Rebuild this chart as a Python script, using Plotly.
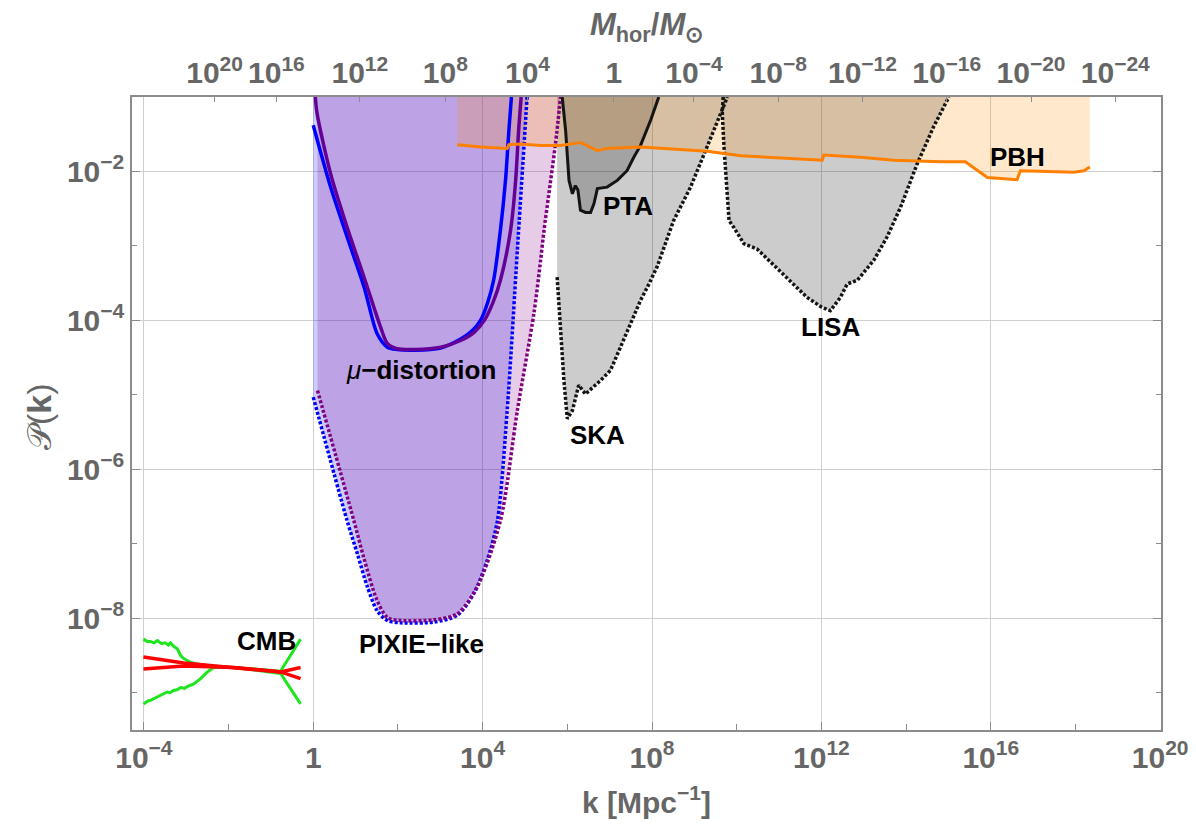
import plotly.graph_objects as go

# ---------------- data (log10 values) ----------------
# CMB
cmb_up_logk = [-4.01, -3.92, -3.85, -3.76, -3.68, -3.58, -3.50, -3.42, -3.37, -3.29, -3.21, -3.13, -3.06, -2.98, -2.90, -2.78, -2.66, -2.43, -1.88, -0.77, -0.73, -0.61, -0.46, -0.30]
cmb_up_logP = [-8.28, -8.31, -8.31, -8.33, -8.30, -8.34, -8.33, -8.36, -8.33, -8.38, -8.41, -8.50, -8.54, -8.57, -8.59, -8.61, -8.62, -8.64, -8.66, -8.71, -8.67, -8.57, -8.43, -8.28]
cmb_lo_logk = [-4.01, -3.90, -3.83, -3.76, -3.68, -3.60, -3.52, -3.45, -3.38, -3.30, -3.22, -3.13, -3.04, -2.95, -2.82, -2.66, -2.50, -2.35, -1.88, -0.77, -0.61, -0.46, -0.30]
cmb_lo_logP = [-9.15, -9.11, -9.10, -9.08, -9.06, -9.04, -9.02, -8.99, -9.00, -8.97, -8.96, -8.93, -8.94, -8.91, -8.88, -8.81, -8.72, -8.66, -8.66, -8.74, -8.88, -9.01, -9.15]
cmb_redA_logk = [-4.01, -3.06, -1.87, -0.77, -0.30]
cmb_redA_logP = [-8.52, -8.60, -8.665, -8.72, -8.81]
cmb_redB_logk = [-4.01, -3.06, -1.87, -0.77, -0.30]
cmb_redB_logP = [-8.68, -8.64, -8.66, -8.72, -8.66]

# mu-distortion (solid)
mu_purple_logk = [0.05, 0.09, 0.41, 0.80, 1.20, 1.59, 1.75, 1.98, 2.40, 3.01, 3.48, 3.80, 4.04, 4.25, 4.42, 4.66, 4.78, 4.85, 4.91]
mu_purple_logP = [-1.0, -1.22, -2.03, -2.75, -3.42, -4.09, -4.31, -4.38, -4.39, -4.36, -4.27, -4.16, -4.0, -3.75, -3.46, -2.79, -2.12, -1.45, -1.0]
mu_blue_logk = [0.0, 0.41, 0.80, 1.20, 1.51, 1.75, 1.98, 2.40, 3.01, 3.48, 3.75, 3.95, 4.12, 4.26, 4.42, 4.54, 4.62, 4.68]
mu_blue_logP = [-1.38, -2.21, -2.88, -3.55, -4.18, -4.36, -4.39, -4.40, -4.37, -4.25, -4.14, -4.0, -3.76, -3.46, -2.79, -2.12, -1.45, -1.0]

# PIXIE-like (dotted)
pixie_blue_logk = [0.0, 0.80, 1.04, 1.28, 1.51, 1.75, 2.06, 2.85, 3.40, 3.79, 4.11, 4.35, 4.58, 4.82, 5.05]
pixie_blue_logP = [-5.03, -6.69, -7.13, -7.58, -7.90, -8.03, -8.06, -8.05, -7.96, -7.67, -7.22, -6.69, -5.21, -3.06, -1.0]
pixie_purple_logk = [0.10, 0.96, 1.20, 1.50, 1.75, 2.06, 2.85, 3.40, 3.87, 4.42, 4.82, 5.21, 5.37, 5.45, 5.72, 5.84]
pixie_purple_logP = [-4.94, -6.69, -7.20, -7.75, -7.99, -8.03, -8.02, -7.94, -7.58, -6.69, -5.21, -3.91, -3.19, -2.79, -1.63, -1.0]

# SKA (dotted)
ska_logk = [5.76, 5.84, 5.92, 6.00, 6.12, 6.27, 6.43, 6.60, 6.78, 7.02, 7.26, 7.45, 7.73, 7.92, 8.12, 8.51, 8.91, 9.30, 9.62, 9.78]
ska_logP = [-3.42, -4.13, -4.81, -5.32, -5.21, -4.87, -4.99, -4.90, -4.81, -4.67, -4.36, -4.09, -3.73, -3.52, -3.28, -2.66, -2.21, -1.67, -1.22, -1.0]

# PTA (solid)
pta_logk = [5.88, 5.96, 6.04, 6.12, 6.19, 6.25, 6.31, 6.43, 6.55, 6.63, 6.71, 6.94, 7.18, 7.41, 7.57, 7.73, 7.97, 8.16]
pta_logP = [-1.0, -1.45, -2.12, -2.30, -2.19, -2.25, -2.52, -2.55, -2.55, -2.43, -2.23, -2.21, -2.12, -1.99, -1.81, -1.65, -1.31, -1.0]

# LISA (dotted)
lisa_logk = [9.68, 9.66, 9.70, 9.75, 9.82, 9.93, 10.17, 10.48, 10.88, 11.27, 11.66, 12.00, 12.21, 12.45, 12.61, 12.85, 13.24, 13.55, 13.87, 14.26, 14.65, 15.01]
lisa_logP = [-1.0, -1.22, -1.67, -2.12, -2.66, -2.75, -2.97, -3.04, -3.26, -3.48, -3.69, -3.82, -3.87, -3.69, -3.51, -3.46, -3.19, -2.88, -2.48, -1.90, -1.40, -1.0]

# PBH (orange)
pbh_logk = [3.40, 3.95, 4.58, 4.62, 4.90, 5.37, 5.84, 6.31, 6.71, 6.94, 7.73, 9.30, 10.09, 11.98, 12.02, 12.06, 12.92, 13.71, 14.81, 15.40, 15.92, 16.62, 16.70, 17.96, 18.20, 18.34]
pbh_logP = [-1.64, -1.67, -1.69, -1.64, -1.63, -1.65, -1.65, -1.61, -1.72, -1.69, -1.67, -1.73, -1.79, -1.85, -1.85, -1.78, -1.81, -1.85, -1.87, -1.87, -2.08, -2.11, -1.99, -2.01, -1.99, -1.94]

# axes
x_range_log = [-4.28, 20.02]
y_range_log = [-9.5, -1.0]
bottom_tick_exp = [-4, 0, 4, 8, 12, 16, 20]
bottom_minor_exp = [-2, 2, 6, 10, 14, 18]
left_tick_exp = [-2, -4, -6, -8]
left_minor_exp = [-3, -5, -7, -9]
top_tick_logk = [-2.33, -0.87, 1.10, 3.12, 5.06, 7.10, 8.99, 10.98, 12.97, 14.96, 16.95, 18.94]
top_tick_labels = ["10<sup>20</sup>", "10<sup>16</sup>", "10<sup>12</sup>", "10<sup>8</sup>", "10<sup>4</sup>", "1",
                   "10<sup>−4</sup>", "10<sup>−8</sup>", "10<sup>−12</sup>", "10<sup>−16</sup>", "10<sup>−20</sup>", "10<sup>−24</sup>"]

TOP_LOG = 0.0  # closure of regions above the plotted range (clipped)


def p10(vals):
    return [10 ** v for v in vals]


def lab(e):
    if e == 0:
        return "1"
    return "10<sup>" + ("−" + str(-e) if e < 0 else str(e)) + "</sup>"


fig = go.Figure()


def region(logk, logP, color):
    xs = [logk[0]] + list(logk) + [logk[-1], logk[0]]
    ys = [TOP_LOG] + list(logP) + [TOP_LOG, TOP_LOG]
    fig.add_trace(go.Scatter(x=p10(xs), y=p10(ys), mode="lines", fill="toself",
                             fillcolor=color, line=dict(width=0), hoverinfo="skip"))


def curve(logk, logP, color, width=3, dash="solid", smooth=False):
    line = dict(color=color, width=width, dash=dash)
    if smooth:
        line.update(shape="spline", smoothing=0.8)
    fig.add_trace(go.Scatter(x=p10(logk), y=p10(logP), mode="lines",
                             line=line, hoverinfo="skip"))


# fills
region(pixie_blue_logk, pixie_blue_logP, "rgba(0,0,255,0.2)")
region(pixie_purple_logk, pixie_purple_logP, "rgba(128,0,128,0.2)")
region(ska_logk, ska_logP, "rgba(0,0,0,0.2)")
region(pta_logk, pta_logP, "rgba(0,0,0,0.2)")
region(lisa_logk, lisa_logP, "rgba(0,0,0,0.2)")
region(pbh_logk, pbh_logP, "rgba(255,140,0,0.2)")

# boundary lines
DOT = "3px,2px"
curve(pixie_blue_logk, pixie_blue_logP, "rgb(0,0,255)", 3.5, DOT, smooth=True)
curve(pixie_purple_logk, pixie_purple_logP, "rgb(128,0,128)", 3.5, DOT, smooth=True)
curve(mu_blue_logk, mu_blue_logP, "rgb(0,0,255)", 3.5, smooth=True)
curve(mu_purple_logk, mu_purple_logP, "rgb(100,0,150)", 3.5, smooth=True)
curve(ska_logk, ska_logP, "rgb(20,20,20)", 3.5, DOT)
curve(pta_logk, pta_logP, "rgb(20,20,20)", 3)
curve(lisa_logk, lisa_logP, "rgb(20,20,20)", 3.5, DOT)
curve(pbh_logk, pbh_logP, "rgb(255,128,0)", 3)
curve(cmb_up_logk, cmb_up_logP, "rgb(30,230,30)", 3)
curve(cmb_lo_logk, cmb_lo_logP, "rgb(30,230,30)", 3)
curve(cmb_redA_logk, cmb_redA_logP, "rgb(255,0,0)", 3.5)
curve(cmb_redB_logk, cmb_redB_logP, "rgb(255,0,0)", 3.5)

# invisible trace for the top axis
fig.add_trace(go.Scatter(x=[10 ** x_range_log[0]], y=[10 ** y_range_log[0]], xaxis="x2",
                         mode="markers", marker=dict(opacity=0), hoverinfo="skip"))

GRAY = "#666666"
AX = "#8c8c8c"
FONT = "Liberation Sans"
tickfont = dict(family=FONT, size=30, color=GRAY, weight="bold")

fig.update_layout(
    width=1196, height=825,
    margin=dict(l=132, r=35, t=97, b=95, autoexpand=False),
    paper_bgcolor="white", plot_bgcolor="white",
    showlegend=False,
    xaxis=dict(type="log", range=x_range_log, automargin=False,
               tickmode="array", tickvals=[10.0 ** e for e in bottom_tick_exp],
               ticktext=[lab(e) for e in bottom_tick_exp],
               ticks="inside", ticklen=8, tickcolor=AX, tickwidth=1,
               showgrid=True, gridcolor="#cfcfcf", gridwidth=1,
               showline=True, linecolor=AX, linewidth=1.5,
               minor=dict(tickmode="array", tickvals=[10.0 ** e for e in bottom_minor_exp],
                          ticks="inside", ticklen=6, tickcolor=AX, showgrid=False),
               tickfont=tickfont, zeroline=False),
    xaxis2=dict(type="log", range=x_range_log, overlaying="x", side="top", automargin=False,
                tickmode="array", tickvals=[10 ** v for v in top_tick_logk], ticktext=top_tick_labels,
                ticks="inside", ticklen=5, tickcolor=AX, showgrid=False,
                showline=True, linecolor=AX, linewidth=1.5, tickfont=tickfont, zeroline=False),
    yaxis=dict(type="log", range=y_range_log, automargin=False,
               tickmode="array", tickvals=[10.0 ** e for e in left_tick_exp],
               ticktext=[lab(e) for e in left_tick_exp],
               ticks="inside", ticklen=8, tickcolor=AX, tickwidth=1,
               showgrid=True, gridcolor="#cfcfcf", gridwidth=1,
               showline=True, linecolor=AX, linewidth=1.5, mirror="ticks",
               minor=dict(tickmode="array", tickvals=[10.0 ** e for e in left_minor_exp],
                          ticks="inside", ticklen=5, tickcolor=AX, showgrid=False),
               tickfont=tickfont, zeroline=False),
)

labfont = dict(family=FONT, size=26, color="black", weight="bold")
labels = [
    ("CMB", -1.11, -8.30),
    ("PIXIE−like", 2.55, -8.34),
    ("<i style='font-weight:normal'>μ</i>−distortion", 2.55, -4.67),
    ("SKA", 6.71, -5.54),
    ("PTA", 7.43, -2.47),
    ("LISA", 12.21, -4.09),
    ("PBH", 16.62, -1.81),
]
for t, lk, lp in labels:
    fig.add_annotation(x=lk, y=lp, xref="x", yref="y", text=t, showarrow=False,
                       font=labfont, xanchor="center", yanchor="middle")

titlefont = dict(family=FONT, size=30, color=GRAY, weight="bold")
fig.add_annotation(x=0.5, y=-0.11, xref="paper", yref="paper", text="k [Mpc<sup>−1</sup>]",
                   showarrow=False, font=titlefont, xanchor="center", yanchor="middle")
fig.add_annotation(x=0.5, y=1.11, xref="paper", yref="paper",
                   text="<i>M</i><sub>hor</sub>/<i>M</i><sub>⊙</sub>",
                   showarrow=False, font=dict(family=FONT, size=31, color=GRAY, weight="bold"),
                   xanchor="center", yanchor="middle")
fig.add_annotation(x=-0.0904, y=0.496, xref="paper", yref="paper", text="𝒫(<b>k</b>)",
                   textangle=-90, showarrow=False,
                   font=dict(family=FONT, size=34, color=GRAY),
                   xanchor="center", yanchor="middle")

fig.write_html("out.html")
